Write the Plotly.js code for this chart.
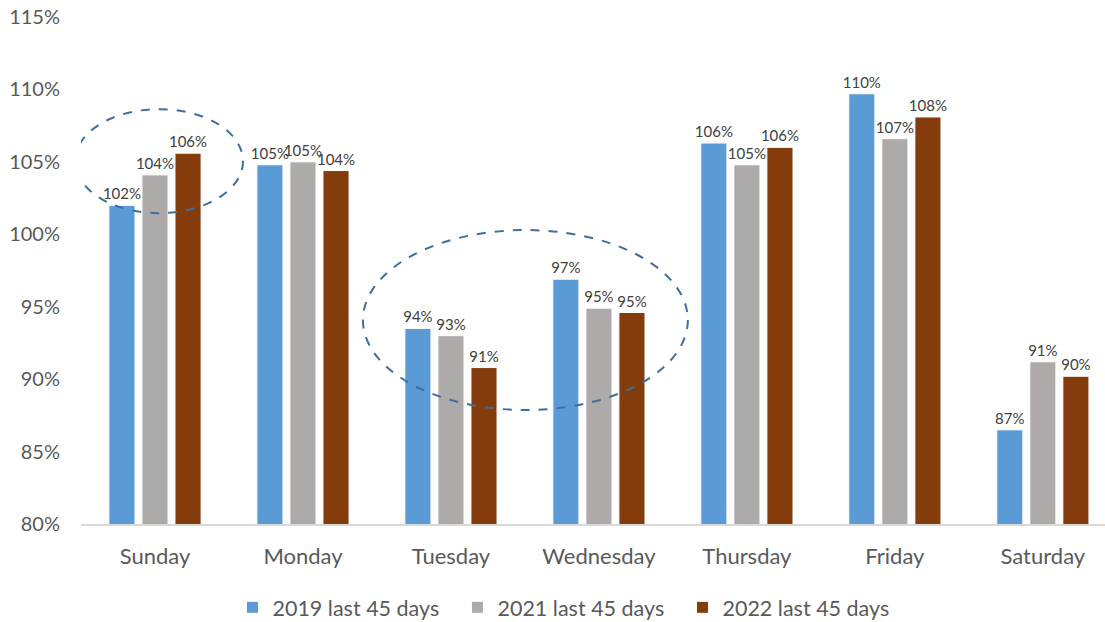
<!DOCTYPE html>
<html>
<head>
<meta charset="utf-8">
<script src="https://cdn.plot.ly/plotly-3.0.1.min.js"></script>
<style>html,body{margin:0;padding:0;background:#fff;}#chart{width:1105px;height:622px;}</style>
</head>
<body>
<div id="chart"></div>
<script>
const days = ["Sunday","Monday","Tuesday","Wednesday","Thursday","Friday","Saturday"];
const series2019 = [1.020, 1.048, 0.935, 0.969, 1.063, 1.097, 0.865];
const series2021 = [1.041, 1.050, 0.930, 0.949, 1.048, 1.066, 0.912];
const series2022 = [1.056, 1.044, 0.908, 0.946, 1.060, 1.081, 0.902];
const seriesNames = ["2019 last 45 days","2021 last 45 days","2022 last 45 days"];
const seriesColors = ["#5B9BD5","#AEAAAA","#843C0C"];
const yTicks = [0.80,0.85,0.90,0.95,1.00,1.05,1.10,1.15];

const font = "Lato, 'Open Sans', sans-serif";
const allSeries = [series2019, series2021, series2022];
const traces = allSeries.map((vals, i) => ({
  type: "bar",
  name: seriesNames[i],
  x: days,
  y: vals,
  marker: {color: seriesColors[i], line: {color: "#ffffff", width: 1}},
  texttemplate: "%{y:.0%}",
  textposition: "outside",
  constraintext: "none",
  cliponaxis: false,
  textfont: {family: font, size: 15, color: "#404040"},
  outsidetextfont: {family: font, size: 15, color: "#404040"},
  hoverinfo: "x+y"
}));

const layout = {
  width: 1105, height: 622,
  margin: {l: 81, r: 0, t: 17, b: 98, autoexpand: false},
  paper_bgcolor: "#ffffff", plot_bgcolor: "#ffffff",
  barmode: "group",
  bargap: 0.33,
  bargroupgap: 0.21,
  font: {family: font, color: "#595959"},
  showlegend: true,
  legend: {orientation: "h", x: 0.4775, xanchor: "center", y: -0.124, yanchor: "top",
           font: {family: font, size: 21.5, color: "#595959"}, traceorder: "normal",
           itemwidth: 30, entrywidth: 180, entrywidthmode: "pixels"},
  xaxis: {range: [-0.5, 6.42], showline: true, linecolor: "#D9D9D9", linewidth: 2,
          ticks: "", ticklabelstandoff: 12, tickfont: {family: font, size: 22, color: "#595959"},
          showgrid: false, fixedrange: true},
  yaxis: {range: [0.80, 1.15], tickvals: yTicks, tickformat: ".0%", showgrid: false,
          zeroline: false, showline: false, ticks: "", ticklen: 0, ticklabelstandoff: 20,
          tickfont: {family: font, size: 20, color: "#595959"}, fixedrange: true},
  shapes: [
    {type: "circle", xref: "x", yref: "y", x0: -0.54, x1: 0.595, y0: 1.0146, y1: 1.0864,
     line: {color: "#3E6E9C", width: 2, dash: "dash"}},
    {type: "circle", xref: "x", yref: "y", x0: 1.405, x1: 3.601, y0: 0.8787, y1: 1.0029,
     line: {color: "#3E6E9C", width: 2, dash: "dash"}}
  ]
};

Plotly.newPlot("chart", traces, layout, {displayModeBar: false, staticPlot: true});
</script>
</body>
</html>
